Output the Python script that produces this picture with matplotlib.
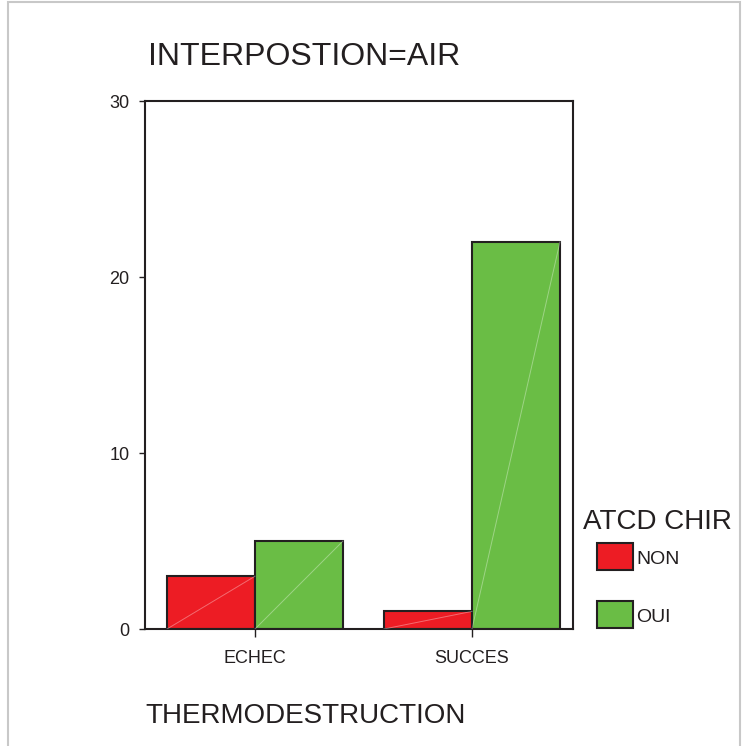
import matplotlib
matplotlib.use("Agg")
import matplotlib.pyplot as plt
from matplotlib.patches import Rectangle
import numpy as np

categories = ["ECHEC", "SUCCES"]
series_names = ["NON", "OUI"]
non_values = [3, 1]
oui_values = [5, 22]
y_ticks = [0, 10, 20, 30]
title = "INTERPOSTION=AIR"
xlabel = "THERMODESTRUCTION"
legend_title = "ATCD CHIR"

RED = "#ED1C24"
GREEN = "#6ABD45"
EDGE = "#231F20"

plt.rcParams['font.family'] = ['Liberation Sans', 'DejaVu Sans']

W, H = 747, 746
fig = plt.figure(figsize=(W / 100, H / 100), dpi=100)

# outer light border
fig.patches.append(Rectangle((8 / W, -0.01), (740 - 8) / W, 1 - 2 / H + 0.01,
                             transform=fig.transFigure, fill=False,
                             edgecolor="#C8C8C8", linewidth=1.5))

ax = fig.add_axes([145 / W, 1 - 629 / H, 428 / W, 528 / H])
x = np.arange(len(categories))
bw = 88 / 217
bars_non = ax.bar(x - bw / 2, non_values, width=bw, color=RED, edgecolor=EDGE, linewidth=1.5, zorder=2)
bars_oui = ax.bar(x + bw / 2, oui_values, width=bw, color=GREEN, edgecolor=EDGE, linewidth=1.5, zorder=2)
for bars in (bars_non, bars_oui):
    for b in bars:
        x0, w, h = b.get_x(), b.get_width(), b.get_height()
        ax.plot([x0, x0 + w], [0, h], color="white", alpha=0.35, linewidth=0.7, zorder=3)

ax.set_xlim(-110 / 217, 1 + 101 / 217)
ax.set_ylim(0, 30)
ax.set_yticks(y_ticks)
ax.set_yticklabels([str(v) for v in y_ticks])
ax.set_xticks(x)
ax.set_xticklabels(categories)
ax.tick_params(axis='y', length=4, width=1, pad=7, labelsize=13, colors="#231F20")
ax.tick_params(axis='x', length=6, width=1, pad=9, labelsize=13, colors="#231F20")
for s in ax.spines.values():
    s.set_linewidth(1.5)
    s.set_color("#231F20")

fig.text(148 / W, 1 - 57 / H, title, fontsize=23, va='center', ha='left', color="#231F20")
fig.text(145 / W, 1 - 716 / H, xlabel, fontsize=20, va='center', ha='left', color="#231F20")
fig.text(583 / W, 1 - 522 / H, legend_title, fontsize=20, va='center', ha='left', color="#231F20")

leg_colors = [RED, GREEN]
leg_y = [543, 601]
for name, c, yy in zip(series_names, leg_colors, leg_y):
    fig.patches.append(Rectangle((597 / W, 1 - (yy + 27) / H), 36 / W, 27 / H,
                                 transform=fig.transFigure, facecolor=c,
                                 edgecolor=EDGE, linewidth=1.5))
    fig.text(636 / W, 1 - (yy + 16) / H, name, fontsize=14, va='center', ha='left', color="#231F20")

fig.savefig("out.png", dpi=100)
